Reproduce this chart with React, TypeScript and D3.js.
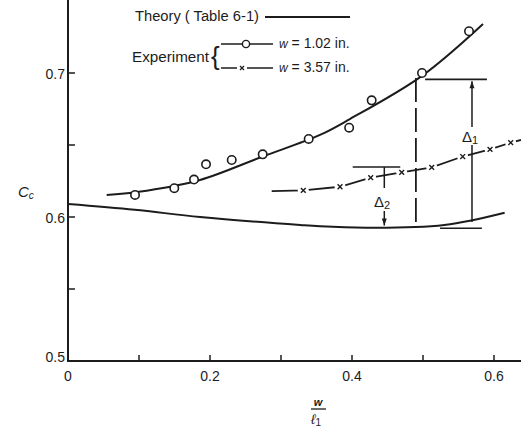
import React from 'react';
import * as d3 from 'd3';

// Theory (Table 6-1)
const theoryX = [0, 0.094, 0.186, 0.327, 0.355, 0.42, 0.489, 0.53, 0.566, 0.615];
const theoryCc = [0.609, 0.605, 0.6, 0.5944, 0.5935, 0.5925, 0.593, 0.5945, 0.5974, 0.603];

// Experiment w = 1.02 in. (circles)
const circleX = [0.0944, 0.1497, 0.1775, 0.1944, 0.2306, 0.2742, 0.339, 0.396, 0.4277, 0.4986, 0.5648];
const circleCc = [0.6153, 0.62, 0.626, 0.6366, 0.6396, 0.6435, 0.6542, 0.662, 0.681, 0.7, 0.729];
const circleFitX = [0.0545, 0.1108, 0.1859, 0.2742, 0.3549, 0.397, 0.4986, 0.5845];
const circleFitCc = [0.6153, 0.6183, 0.6257, 0.642, 0.657, 0.668, 0.698, 0.734];

// Experiment w = 3.57 in. (crosses)
const crossX = [0.3314, 0.3831, 0.4263, 0.47, 0.5123, 0.5559, 0.5944, 0.6235];
const crossCc = [0.6185, 0.621, 0.6273, 0.631, 0.6345, 0.642, 0.647, 0.6516];
const crossFitX = [0.2869, 0.3314, 0.3831, 0.4263, 0.47, 0.5123, 0.5559, 0.5944, 0.6235, 0.638];
const crossFitCc = [0.618, 0.6185, 0.621, 0.6273, 0.631, 0.6345, 0.642, 0.647, 0.6516, 0.6535];

// Axes
const xTicks = [0.1, 0.2, 0.3, 0.4, 0.5, 0.6];
const xTickLabels = ['0.2', '0.4', '0.6'];
const xTickLabelValues = [0.2, 0.4, 0.6];
const yTicks = [0.55, 0.6, 0.65, 0.7];
const yTickLabels = ['0.5', '0.6', '0.7'];
const yTickLabelValues = [0.5, 0.6, 0.7];

// Annotations (data coordinates)
const dashedRef = { x: 0.49, top: 0.6965, bottom: 0.593 };
const delta1 = { x: 0.569, top: 0.6956, bottom: 0.5965, lineX0: 0.503, lineX1: 0.59, baseX0: 0.524, baseX1: 0.583, base: 0.5922 };
const delta2 = { x: 0.4455, top: 0.6347, bottom: 0.5927, lineX0: 0.401, lineX1: 0.468 };

const W = 521;
const H = 430;
const ink = '#1c1c1c';
const font = "'Liberation Sans', Arial, sans-serif";

export default function App() {
  const x = d3.scaleLinear().domain([0, 0.6]).range([68, 494]);
  const y = d3.scaleLinear().domain([0.5, 0.7]).range([361, 73]);

  const line = d3.line<[number, number]>().x(d => x(d[0])).y(d => y(d[1])).curve(d3.curveCatmullRom.alpha(0.5));
  const theoryPath = line(theoryX.map((v, i) => [v, theoryCc[i]]) as [number, number][]) || '';
  const circlePath = line(circleFitX.map((v, i) => [v, circleFitCc[i]]) as [number, number][]) || '';
  const crossPath = d3.line<[number, number]>().x(d => x(d[0])).y(d => y(d[1]))(crossFitX.map((v, i) => [v, crossFitCc[i]]) as [number, number][]) || '';

  const x0 = x(0);
  const y0 = y(0.5);

  const arrowUp = (px: number, py: number) => `M${px},${py} L${px - 2.5},${py + 7} L${px + 2.5},${py + 7} Z`;
  const arrowDown = (px: number, py: number) => `M${px},${py} L${px - 2.5},${py - 7} L${px + 2.5},${py - 7} Z`;

  const cross = (cx: number, cy: number, s = 2.4) => `M${cx - s},${cy - s} L${cx + s},${cy + s} M${cx - s},${cy + s} L${cx + s},${cy - s}`;

  const d1x = x(delta1.x);
  const d2x = x(delta2.x);

  return (
    <svg width={W} height={H} style={{ position: 'absolute', left: 0, top: 0, background: '#fff' }} fontFamily={font}>
      <rect x={0} y={0} width={W} height={H} fill="#fff" />
      {/* axes */}
      <line x1={x0} y1={0} x2={x0} y2={y0} stroke={ink} strokeWidth={2} />
      <line x1={x0 - 1} y1={y0} x2={W} y2={y0} stroke={ink} strokeWidth={2} />
      {xTicks.map(t => (
        <line key={'xt' + t} x1={x(t)} y1={y0} x2={x(t)} y2={y0 - 6} stroke={ink} strokeWidth={1.5} />
      ))}
      {yTicks.map(t => (
        <line key={'yt' + t} x1={x0} y1={y(t)} x2={x0 + 7} y2={y(t)} stroke={ink} strokeWidth={1.5} />
      ))}
      {xTickLabels.map((l, i) => (
        <text key={'xl' + l} x={x(xTickLabelValues[i])} y={y0 + 20} fontSize={14} textAnchor="middle" fill={ink}>{l}</text>
      ))}
      <text x={x0} y={y0 + 20} fontSize={14} textAnchor="middle" fill={ink}>0</text>
      {yTickLabels.map((l, i) => (
        <text key={'yl' + l} x={x0 - 3} y={y(yTickLabelValues[i]) + (i === 0 ? 1 : 6)} fontSize={14} textAnchor="end" fill={ink}>{l}</text>
      ))}

      {/* axis titles */}
      <text x={318} y={406} fontSize={11} fontStyle="italic" fontWeight="bold" textAnchor="middle" fill={ink}>w</text>
      <line x1={311} y1={409} x2={326} y2={409} stroke={ink} strokeWidth={1.3} />
      <text x={316} y={424} fontSize={14} fontStyle="italic" textAnchor="middle" fill={ink}>ℓ<tspan fontSize={10} fontStyle="normal" dy={2}>1</tspan></text>
      <text x={18} y={197} fontSize={15} fontStyle="italic" fill={ink}>C<tspan fontSize={10} dy={2}>c</tspan></text>

      {/* theory */}
      <path d={theoryPath} fill="none" stroke={ink} strokeWidth={2} />
      {/* circle series */}
      <path d={circlePath} fill="none" stroke={ink} strokeWidth={2} />
      {circleX.map((v, i) => (
        <circle key={'c' + i} cx={x(v)} cy={y(circleCc[i])} r={4.2} fill="#fff" stroke={ink} strokeWidth={1.6} />
      ))}
      {/* cross series */}
      <path d={crossPath} fill="none" stroke={ink} strokeWidth={1.8} />
      {crossX.map((v, i) => (
        <g key={'x' + i}>
          <circle cx={x(v)} cy={y(crossCc[i])} r={5.5} fill="#fff" />
          <path d={cross(x(v), y(crossCc[i]))} stroke={ink} strokeWidth={1.4} />
        </g>
      ))}

      {/* dashed reference */}
      <line x1={x(dashedRef.x)} y1={y(dashedRef.top)} x2={x(dashedRef.x)} y2={y(dashedRef.bottom)} stroke={ink} strokeWidth={1.8} strokeDasharray="24,6" />

      {/* delta 1 */}
      <line x1={x(delta1.lineX0)} y1={y(delta1.top)} x2={x(delta1.lineX1)} y2={y(delta1.top)} stroke={ink} strokeWidth={1.6} />
      <line x1={x(delta1.baseX0)} y1={y(delta1.base)} x2={x(delta1.baseX1)} y2={y(delta1.base)} stroke={ink} strokeWidth={1.6} />
      <line x1={d1x} y1={y(delta1.top) + 2} x2={d1x} y2={127} stroke={ink} strokeWidth={1.5} />
      <line x1={d1x} y1={145} x2={d1x} y2={y(delta1.bottom)} stroke={ink} strokeWidth={1.5} />
      <path d={arrowUp(d1x, y(delta1.top) + 2)} fill={ink} />
      <text x={462} y={142} fontSize={15} fill={ink}>Δ<tspan fontSize={11} dy={2}>1</tspan></text>

      {/* delta 2 */}
      <line x1={x(delta2.lineX0)} y1={y(delta2.top)} x2={x(delta2.lineX1)} y2={y(delta2.top)} stroke={ink} strokeWidth={1.6} />
      <line x1={d2x} y1={y(delta2.top)} x2={d2x} y2={188} stroke={ink} strokeWidth={1.5} />
      <line x1={d2x} y1={211} x2={d2x} y2={y(delta2.bottom) - 2} stroke={ink} strokeWidth={1.5} />
      <path d={arrowDown(d2x, y(delta2.bottom) - 2)} fill={ink} />
      <text x={374} y={207} fontSize={15} fill={ink}>Δ<tspan fontSize={11} dy={2}>2</tspan></text>

      {/* legend */}
      <text x={135} y={21} fontSize={14} fill={ink} textLength={124} lengthAdjust="spacingAndGlyphs">Theory ( Table 6-1)</text>
      <line x1={265} y1={17} x2={350} y2={17} stroke={ink} strokeWidth={1.8} />
      <text x={132} y={62} fontSize={14} fill={ink} textLength={77} lengthAdjust="spacingAndGlyphs">Experiment</text>
      <text x={211} y={65} fontSize={26} fill={ink} fontWeight={300}>{'{'}</text>
      <line x1={221} y1={44} x2={273} y2={44} stroke={ink} strokeWidth={1.5} />
      <circle cx={246} cy={44} r={3.6} fill="#fff" stroke={ink} strokeWidth={1.4} />
      <text x={279} y={48} fontSize={14} fill={ink}><tspan fontStyle="italic" fontSize={12}>w</tspan> = 1.02 in.</text>
      <line x1={221} y1={68} x2={237} y2={68} stroke={ink} strokeWidth={1.5} />
      <line x1={247} y1={68} x2={273} y2={68} stroke={ink} strokeWidth={1.5} />
      <path d={cross(242, 68, 2)} stroke={ink} strokeWidth={1.2} />
      <text x={279} y={72} fontSize={14} fill={ink}><tspan fontStyle="italic" fontSize={12}>w</tspan> = 3.57 in.</text>
    </svg>
  );
}
